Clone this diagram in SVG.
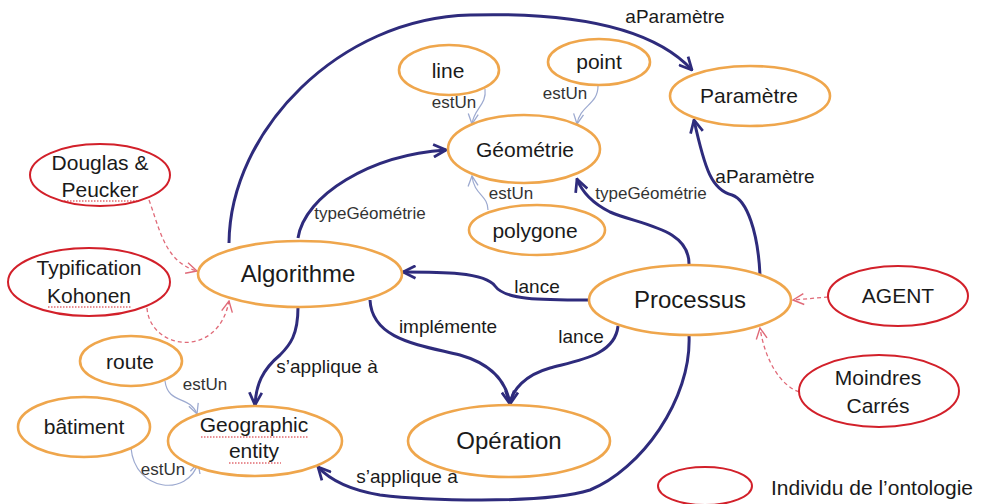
<svg xmlns="http://www.w3.org/2000/svg" width="986" height="504" viewBox="0 0 986 504">
<style>
  .cls ellipse { fill: #fff; stroke: #EFA64C; stroke-width: 2.6; }
  .ind ellipse { fill: #fff; stroke: #D2202A; stroke-width: 2; }
  text { font-family: "Liberation Sans", Arial, sans-serif; fill: #1a1a1a; text-anchor: middle; }
  .big { font-size: 24px; }
  .mid { font-size: 21px; }
  .lbl { font-size: 19px; }
  .sm { font-size: 17px; fill: #333; }
  .rel { fill: none; stroke: #2E2B7C; stroke-width: 3; marker-end: url(#aNavy); }
  .isa { fill: none; stroke: #9DAAD0; stroke-width: 1.2; marker-end: url(#aBlue); }
  .inst { fill: none; stroke: #E06A78; stroke-width: 1.3; stroke-dasharray: 4 3; marker-end: url(#aRed); }
  .sq { fill: none; stroke: #D2202A; stroke-width: 1; stroke-dasharray: 1.5 1.5; }
</style>
<defs>
  <marker id="aNavy" viewBox="0 0 12 12" refX="11" refY="6" markerWidth="5" markerHeight="5" orient="auto" markerUnits="strokeWidth">
    <path d="M1,1 L11,6 L1,11" fill="none" stroke="#2E2B7C" stroke-width="2.2"/>
  </marker>
  <marker id="aBlue" viewBox="0 0 12 12" refX="11" refY="6" markerWidth="10" markerHeight="10" orient="auto" markerUnits="strokeWidth">
    <path d="M1,1 L11,6 L1,11" fill="none" stroke="#9DAAD0" stroke-width="1.3"/>
  </marker>
  <marker id="aRed" viewBox="0 0 12 12" refX="11" refY="6" markerWidth="10" markerHeight="10" orient="auto" markerUnits="strokeWidth">
    <path d="M1,1 L11,6 L1,11" fill="none" stroke="#E06A78" stroke-width="1.3"/>
  </marker>
</defs>
<rect width="986" height="504" fill="#fff"/>

<g id="connectors">
  <!-- navy relations -->
  <path class="rel" d="M229,243 C230,130 340,18 470,15 C580,12 655,30 692,70"/>
  <path class="rel" d="M298,238 C305,195 370,155 446,150"/>
  <path class="rel" d="M689,265 C690,228 640,225 610,212 C592,203 582,192 577,179"/>
  <path class="rel" d="M760,275 C758,232 747,200 732,195 C712,190 705,170 694,120"/>
  <path class="rel" d="M588,300 C540,300 505,300 495,286 C485,272 440,272 403,272"/>
  <path class="rel" d="M618,326 C615,355 580,360 550,368 C525,375 512,390 510,404"/>
  <path class="rel" d="M370,300 C372,340 420,345 460,355 C495,365 507,385 510,404"/>
  <path class="rel" d="M298,307 C298,335 290,345 280,355 C262,370 256,385 255,405"/>
  <path class="rel" d="M689,335 C692,400 640,470 590,490 C540,505 420,500 380,495 C350,490 330,480 318,467"/>
  <!-- estUn -->
  <path class="isa" d="M485,89 C487,105 474,108 472,124"/>
  <path class="isa" d="M598,86 C598,105 580,105 577,124"/>
  <path class="isa" d="M488,210 C488,195 474,195 472,176"/>
  <path class="isa" d="M165,381 C168,405 190,395 197,414"/>
  <path class="isa" d="M131,448 C135,492 188,497 198,463"/>
  <!-- instances -->
  <path class="inst" d="M149,200 C160,230 165,262 197,271"/>
  <path class="inst" d="M147,308 C150,350 218,360 229,301"/>
  <path class="inst" d="M828,297 L793,300"/>
  <path class="inst" d="M799,392 C780,385 765,360 760,328"/>

  <!-- labels -->
  <text class="lbl" x="675" y="23">aParamètre</text>
  <text class="lbl" x="765" y="183">aParamètre</text>
  <text class="sm" x="370" y="219">typeGéométrie</text>
  <text class="sm" x="651" y="199">typeGéométrie</text>
  <text class="sm" x="454" y="108">estUn</text>
  <text class="sm" x="565" y="99">estUn</text>
  <text class="sm" x="511" y="199">estUn</text>
  <text class="sm" x="205" y="390">estUn</text>
  <text class="sm" x="163" y="475">estUn</text>
  <text class="lbl" x="537" y="293">lance</text>
  <text class="lbl" x="581" y="343">lance</text>
  <text class="lbl" x="448" y="333">implémente</text>
  <text class="lbl" x="327" y="373">s’applique à</text>
  <text class="lbl" x="407" y="483">s’applique à</text>
</g>

<g id="line" class="cls"><ellipse cx="449" cy="70" rx="50" ry="25"/><text class="mid" x="448" y="78">line</text></g>
<g id="point" class="cls"><ellipse cx="599" cy="62" rx="51" ry="23"/><text class="mid" x="599" y="69">point</text></g>
<g id="geometrie" class="cls"><ellipse cx="524" cy="149" rx="76" ry="34"/><text class="mid" x="525" y="157">Géométrie</text></g>
<g id="polygone" class="cls"><ellipse cx="537" cy="230" rx="68" ry="25"/><text class="mid" x="535" y="238">polygone</text></g>
<g id="parametre" class="cls"><ellipse cx="750" cy="96" rx="80" ry="30"/><text class="mid" x="749" y="103">Paramètre</text></g>
<g id="algorithme" class="cls"><ellipse cx="300" cy="274" rx="102" ry="33"/><text class="big" x="298" y="282">Algorithme</text></g>
<g id="processus" class="cls"><ellipse cx="690" cy="300" rx="101" ry="35"/><text class="big" x="690" y="308">Processus</text></g>
<g id="operation" class="cls"><ellipse cx="509" cy="441" rx="101" ry="36"/><text class="big" x="509" y="449">Opération</text></g>
<g id="geographic" class="cls"><ellipse cx="255" cy="441" rx="87" ry="35"/>
  <text class="mid" x="254" y="432">Geographic</text><text class="mid" x="254" y="458">entity</text>
  <path class="sq" d="M201,437 L308,437 M229,463 L281,463"/></g>
<g id="route" class="cls"><ellipse cx="131" cy="361" rx="51" ry="25"/><text class="mid" x="130" y="369">route</text></g>
<g id="batiment" class="cls"><ellipse cx="84" cy="427" rx="66" ry="30"/><text class="mid" x="84" y="434">bâtiment</text></g>

<g id="douglas" class="ind"><ellipse cx="100" cy="175" rx="70" ry="31"/>
  <text class="mid" x="100" y="170">Douglas &amp;</text><text class="mid" x="100" y="197">Peucker</text>
  <path class="sq" d="M64,201 L137,201"/></g>
<g id="typification" class="ind"><ellipse cx="89" cy="282" rx="81" ry="34"/>
  <text class="mid" x="89" y="275">Typification</text><text class="mid" x="89" y="303">Kohonen</text>
  <path class="sq" d="M48,307 L131,307"/></g>
<g id="agent" class="ind"><ellipse cx="898" cy="296" rx="70" ry="30"/><text class="mid" x="898" y="303">AGENT</text></g>
<g id="moindres" class="ind"><ellipse cx="879" cy="391" rx="80" ry="36"/>
  <text class="mid" x="878" y="385">Moindres</text><text class="mid" x="878" y="413">Carrés</text></g>
<g id="legend" class="ind"><ellipse cx="705" cy="486" rx="47" ry="19"/>
  <text class="mid" x="771" y="495" style="text-anchor:start">Individu de l’ontologie</text></g>
</svg>
